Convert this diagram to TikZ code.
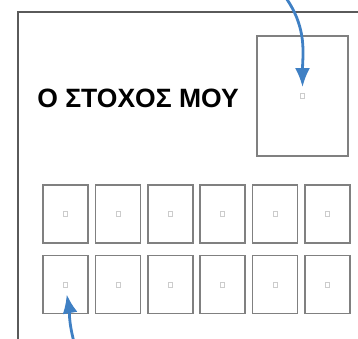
\documentclass[tikz,border=0pt]{standalone}
\usepackage{fontspec}
\setmainfont{Liberation Sans}
\usetikzlibrary{positioning,arrows.meta}
\definecolor{arrowblue}{HTML}{3F80C4}
\definecolor{framegray}{HTML}{5A5A5A}
\definecolor{boxgray}{HTML}{808080}

\begin{document}
\begin{tikzpicture}[x=1pt, y=-1pt, >={Latex[length=19pt,width=15pt]},
    box/.style={draw=boxgray, line width=1.5pt, inner sep=0pt},
    dot/.style={draw=gray!40, line width=0.7pt, inner sep=0pt, minimum width=4pt, minimum height=5pt},
    pointer/.style={->, arrowblue, line width=2.8pt}]
		% 1. Page size and the outer frame (only top and left edges show)
		\useasboundingbox (0,0) rectangle (358,339);
		\draw[framegray, line width=1.6pt] (360,12) -- (18,12) -- (18,341);

		% 2. Title
		\node[font=\bfseries\fontsize{26.5}{30}\selectfont] (title) at (138,98) {Ο ΣΤΟΧΟΣ ΜΟΥ};

		% 3. Goal box
		\node[box, minimum width=91pt, minimum height=120pt] (goal) at (302.5,96) {};
		\node[dot] (goaldot) at (goal.center) {};

		% 4. Two rows of six cards
		\foreach \r/\y in {1/214, 2/284.5}
			\foreach \c in {1,...,6} {
				\node[box, minimum width=45pt, minimum height=58pt] (card\r\c) at ({65.5+52.4*(\c-1)},\y) {};
				\node[dot] (dot\r\c) at (card\r\c.center) {};
			}

		% 5. Arrows
		\coordinate (topstart) at (286,-2);
		\draw[pointer, shorten >=6pt] (topstart) to[out=-55, in=90] (goaldot.north);
		\coordinate (botstart) at (74,342);
		\draw[pointer, shorten >=7pt] (botstart) to[out=105, in=-80] (dot21.south);
	\end{tikzpicture}
\end{document}
